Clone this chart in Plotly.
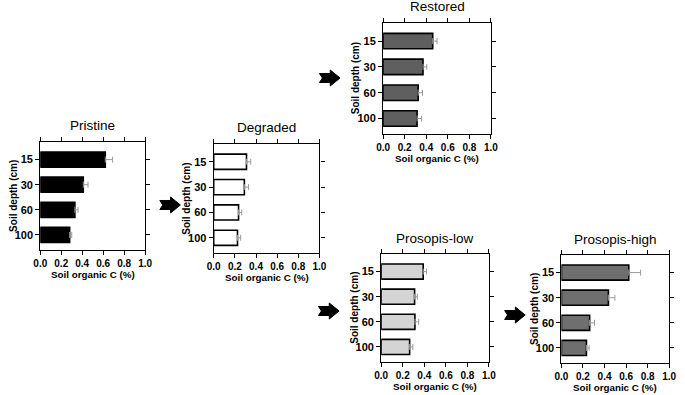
import plotly.graph_objects as go

W, H = 685, 395

depths = ["15", "30", "60", "100"]
x_ticks = [0.0, 0.2, 0.4, 0.6, 0.8, 1.0]
x_tick_labels = ["0.0", "0.2", "0.4", "0.6", "0.8", "1.0"]

panel_names = ["Pristine", "Degraded", "Restored", "Prosopis-low", "Prosopis-high"]

pristine_soc = [0.62, 0.41, 0.33, 0.28]
pristine_err = [0.07, 0.045, 0.03, 0.02]
degraded_soc = [0.31, 0.29, 0.235, 0.225]
degraded_err = [0.04, 0.04, 0.03, 0.03]
restored_soc = [0.46, 0.37, 0.325, 0.315]
restored_err = [0.04, 0.035, 0.04, 0.04]
plow_soc = [0.39, 0.31, 0.313, 0.264]
plow_err = [0.03, 0.025, 0.035, 0.03]
phigh_soc = [0.625, 0.436, 0.262, 0.232]
phigh_err = [0.11, 0.06, 0.045, 0.025]

x_title = "Soil organic C (%)"
y_title = "Soil depth (cm)"

# styling (not data)
fills = ["#000000", "#ffffff", "#5f5f5f", "#d4d4d4", "#6f6f6f"]
boxes = [  # left, right, top, bottom in px
    (34, 141, 142, 250),
    (211, 319, 144, 253),
    (384, 494, 23, 134),
    (382, 492, 254, 362),
    (566, 676, 255, 363),
]
arrows = [(166, 205), (329, 78), (328, 311), (518, 315)]

values = [pristine_soc, degraded_soc, restored_soc, plow_soc, phigh_soc]
errors = [pristine_err, degraded_err, restored_err, plow_err, phigh_err]

FONT = "Arial, Liberation Sans, sans-serif"

def px(x):
    return x / W

def py(y):
    return 1 - y / H

fig = go.Figure()
annotations = []
shapes = []
layout = {}

for i, (name, vals, errs, fill, box) in enumerate(zip(panel_names, values, errors, fills, boxes)):
    n = i + 1
    xa = "x" if n == 1 else f"x{n}"
    ya = "y" if n == 1 else f"y{n}"
    fig.add_trace(go.Bar(
        x=vals, y=depths, orientation="h", width=0.6,
        marker=dict(color=fill, line=dict(color="#000000", width=1.6)),
        error_x=dict(type="data", array=errs, arrayminus=[0] * len(errs), symmetric=False,
                     color="#9a9a9a", thickness=1, width=3),
        xaxis=xa, yaxis=ya, showlegend=False,
    ))
    l, r, t, b = box
    axkw = dict(showline=True, linecolor="#000000", linewidth=1.2, mirror="ticks",
                ticks="outside", ticklen=4, tickwidth=1.2, tickcolor="#000000",
                showgrid=False, zeroline=False, fixedrange=True)
    layout["xaxis" if n == 1 else f"xaxis{n}"] = dict(
        domain=[px(l), px(r)], anchor=ya, range=[0, 1.0],
        tickvals=x_ticks, ticktext=x_tick_labels,
        tickfont=dict(family=FONT, size=10, color="#000000", weight="bold"),
        **axkw)
    layout["yaxis" if n == 1 else f"yaxis{n}"] = dict(
        domain=[py(b), py(t)], anchor=xa, type="category",
        categoryorder="array", categoryarray=depths, range=[3.6, -0.7],
        tickfont=dict(family=FONT, size=11, color="#000000", weight="bold"),
        **axkw)
    cx = (l + r) / 2
    annotations.append(dict(text=name, x=px(cx), y=py(t - 16), xref="paper", yref="paper",
                            showarrow=False, xanchor="center", yanchor="middle",
                            font=dict(family=FONT, size=13.5, color="#000000")))
    annotations.append(dict(text=x_title, x=px(cx), y=py(b + 24), xref="paper", yref="paper",
                            showarrow=False, xanchor="center", yanchor="middle",
                            font=dict(family=FONT, size=9.8, color="#000000", weight="bold")))
    annotations.append(dict(text=y_title, x=px(l - 28), y=py((t + b) / 2), xref="paper", yref="paper",
                            showarrow=False, xanchor="center", yanchor="middle", textangle=-90,
                            font=dict(family=FONT, size=10, color="#000000", weight="bold")))

arrow_pts = [(-10, -4.5), (1, -4.5), (1, -8), (11, 0), (1, 8), (1, 4.5), (-10, 4.5), (-7, 0)]
for (ax, ay) in arrows:
    path = "M " + " L ".join(f"{px(ax + dx):.5f},{py(ay + dy):.5f}" for dx, dy in arrow_pts) + " Z"
    shapes.append(dict(type="path", path=path, xref="paper", yref="paper",
                       fillcolor="#000000", line=dict(color="#000000", width=1)))

fig.update_layout(
    width=W, height=H, margin=dict(l=0, r=0, t=0, b=0),
    paper_bgcolor="#ffffff", plot_bgcolor="#ffffff",
    annotations=annotations, shapes=shapes, bargap=0.4,
    **layout,
)

fig.write_html(
    "out.html",
    config={"displayModeBar": False},
    post_script="document.body.style.margin='0';document.body.style.padding='0';"
                "document.documentElement.style.overflow='hidden';",
)
